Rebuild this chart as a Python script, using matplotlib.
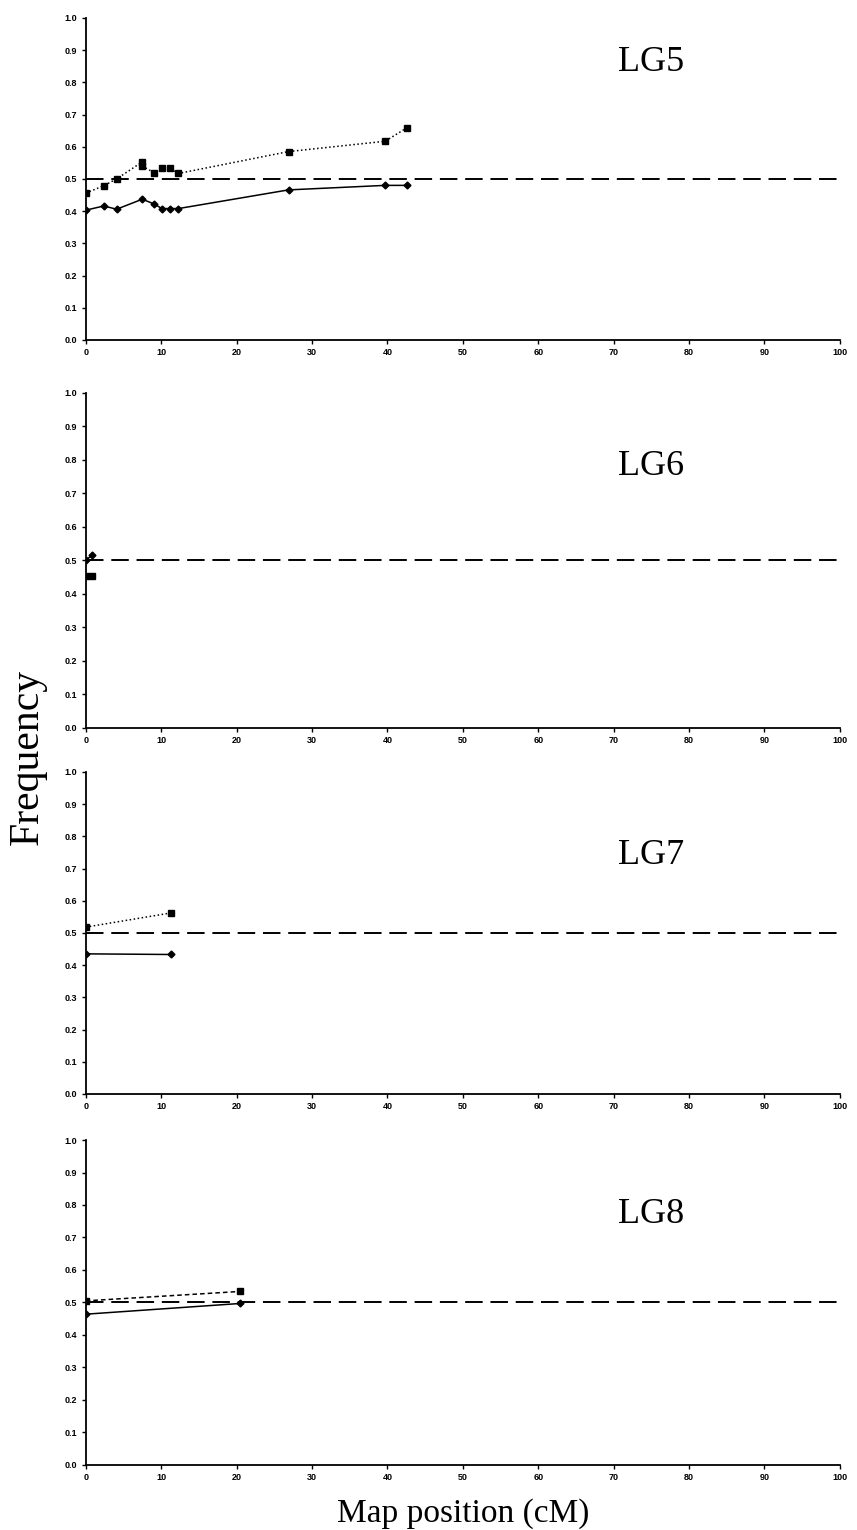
import matplotlib.pyplot as plt

# LG5
lg5_pos_sq = [0, 2.4, 4.1, 7.5, 7.5, 9.1, 10.1, 11.2, 12.3, 26.9, 39.7, 42.6]
lg5_freq_sq = [0.456, 0.479, 0.50, 0.553, 0.54, 0.519, 0.535, 0.533, 0.517, 0.585, 0.617, 0.659]
lg5_pos_di = [0, 2.4, 4.1, 7.5, 9.1, 10.1, 11.2, 12.3, 26.9, 39.7, 42.6]
lg5_freq_di = [0.403, 0.416, 0.406, 0.437, 0.422, 0.408, 0.408, 0.408, 0.466, 0.48, 0.48]

# LG6
lg6_pos_sq = [0, 0.9]
lg6_freq_sq = [0.455, 0.455]
lg6_pos_di = [0, 0.9]
lg6_freq_di = [0.502, 0.515]

# LG7
lg7_pos_sq = [0, 11.3]
lg7_freq_sq = [0.518, 0.562]
lg7_pos_di = [0, 11.3]
lg7_freq_di = [0.435, 0.433]

# LG8
lg8_pos_sq = [0, 20.5]
lg8_freq_sq = [0.505, 0.534]
lg8_pos_di = [0, 20.5]
lg8_freq_di = [0.464, 0.497]

groups = ['LG5', 'LG6', 'LG7', 'LG8']
sq_pos = [lg5_pos_sq, lg6_pos_sq, lg7_pos_sq, lg8_pos_sq]
sq_freq = [lg5_freq_sq, lg6_freq_sq, lg7_freq_sq, lg8_freq_sq]
di_pos = [lg5_pos_di, lg6_pos_di, lg7_pos_di, lg8_pos_di]
di_freq = [lg5_freq_di, lg6_freq_di, lg7_freq_di, lg8_freq_di]
sq_style = [':', ':', ':', (0, (3, 2))]
label_y = [0.86, 0.78, 0.74, 0.77]

xticks = list(range(0, 101, 10))
yticks = [i / 10 for i in range(11)]

fig = plt.figure(figsize=(8.57, 15.30), dpi=100)
# [bottom, height] of each panel, figure fraction
boxes = [[0.7778, 0.2105], [0.5242, 0.2190], [0.2850, 0.2105], [0.0425, 0.2124]]
for i in range(4):
    ax = fig.add_axes([0.100, boxes[i][0], 0.880, boxes[i][1]])
    ax.plot([0, 100], [0.5, 0.5], color='black', lw=1.4, dashes=(9, 4))
    ax.plot(sq_pos[i], sq_freq[i], color='black', lw=1.1, linestyle=sq_style[i],
            marker='s', markersize=4.5)
    ax.plot(di_pos[i], di_freq[i], color='black', lw=1.1, linestyle='-',
            marker='D', markersize=3.5)
    ax.set_xlim(0, 100)
    ax.set_ylim(0, 1.0)
    ax.set_xticks(xticks)
    ax.set_yticks(yticks)
    ax.set_yticklabels(['%.1f' % v for v in yticks])
    for lab in ax.get_xticklabels() + ax.get_yticklabels():
        lab.set_fontweight('bold')
        lab.set_fontsize(6.5)
        lab.set_family('Liberation Sans')
    ax.spines['top'].set_visible(False)
    ax.spines['right'].set_visible(False)
    ax.spines['left'].set_linewidth(1.3)
    ax.spines['bottom'].set_linewidth(1.3)
    ax.tick_params(axis='both', length=3, width=1, pad=3)
    ax.text(75, label_y[i], groups[i], fontsize=26, family='Liberation Serif',
            ha='center', va='center')

fig.text(0.032, 0.505, 'Frequency', rotation=90, fontsize=30, family='Liberation Serif',
         ha='center', va='center')
fig.text(0.541, 0.011, 'Map position (cM)', fontsize=24, family='Liberation Serif',
         ha='center', va='center')

plt.savefig('out.png', dpi=100)
